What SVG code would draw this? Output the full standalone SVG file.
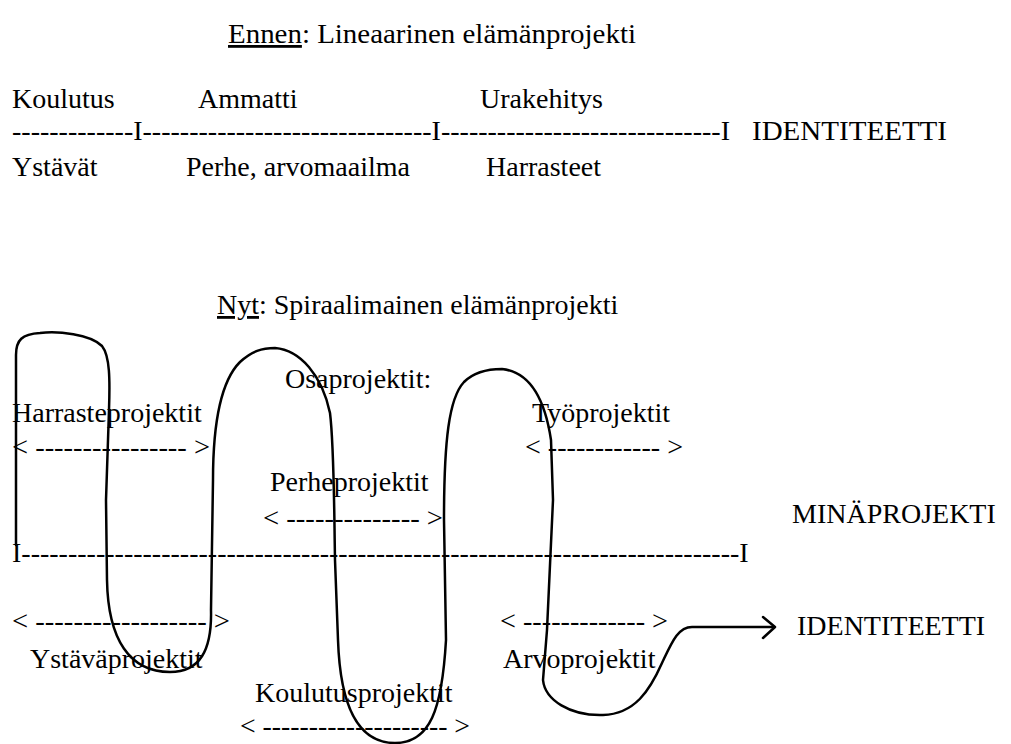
<svg xmlns="http://www.w3.org/2000/svg" width="1011" height="744" viewBox="0 0 1011 744">
<style>
text{font-family:"Liberation Serif","Times New Roman",serif;font-size:28px;fill:#000}
.u{text-decoration:underline}
.curve{fill:none;stroke:#000;stroke-width:2.5;stroke-linecap:round;stroke-linejoin:round}
</style>
<rect width="1011" height="744" fill="#fff"/>
<g id="linear">
<g id="title-ennen"><text x="228" y="43" textLength="408" lengthAdjust="spacingAndGlyphs"><tspan class="u">Ennen</tspan>: Lineaarinen elämänprojekti</text></g>
<g id="koulutus"><text x="12" y="108">Koulutus</text></g>
<g id="ammatti"><text x="198" y="108">Ammatti</text></g>
<g id="urakehitys"><text x="480" y="108">Urakehitys</text></g>
<g id="timeline1"><text x="12" y="140">-------------I-------------------------------I------------------------------I</text></g>
<g id="identiteetti1"><text x="752" y="140" textLength="195" lengthAdjust="spacingAndGlyphs">IDENTITEETTI</text></g>
<g id="ystavat"><text x="12" y="176">Ystävät</text></g>
<g id="perhe"><text x="186" y="176">Perhe, arvomaailma</text></g>
<g id="harrasteet"><text x="486" y="176">Harrasteet</text></g>
</g>
<g id="spiral">
<g id="title-nyt"><text x="217" y="314"><tspan class="u">Nyt</tspan>: Spiraalimainen elämänprojekti</text></g>
<g id="osaprojektit"><text x="285" y="388">Osaprojektit:</text></g>
<g id="harrasteprojektit"><text x="12" y="422">Harrasteprojektit</text><text x="12" y="456" textLength="198" lengthAdjust="spacingAndGlyphs">&lt; ---------------- &gt;</text></g>
<g id="tyoprojektit"><text x="532" y="422">Työprojektit</text><text x="525" y="456" textLength="158" lengthAdjust="spacingAndGlyphs">&lt; ------------ &gt;</text></g>
<g id="perheprojektit"><text x="270" y="491">Perheprojektit</text><text x="263" y="527" textLength="180" lengthAdjust="spacingAndGlyphs">&lt; -------------- &gt;</text></g>
<g id="minaprojekti"><text x="792" y="523">MINÄPROJEKTI</text></g>
<g id="timeline2"><text x="12" y="562">I-----------------------------------------------------------------------------I</text></g>
<g id="ystavaprojektit"><text x="12" y="630" textLength="218" lengthAdjust="spacingAndGlyphs">&lt; ------------------ &gt;</text><text x="30" y="668">Ystäväprojektit</text></g>
<g id="arvoprojektit"><text x="500" y="630" textLength="168" lengthAdjust="spacingAndGlyphs">&lt; ------------- &gt;</text><text x="503" y="668">Arvoprojektit</text></g>
<g id="identiteetti2"><text x="797" y="635">IDENTITEETTI</text></g>
<g id="koulutusprojektit"><text x="255" y="702">Koulutusprojektit</text><text x="240" y="735" textLength="230" lengthAdjust="spacingAndGlyphs">&lt; -------------------- &gt;</text></g>
</g>
<g id="connectors">
<path class="curve" d="M16 545 L16 355 C16 340 22 334 40 333 C58 331 90 334 102 346 C110 356 110 380 109 410 L106 500 L107 580 C108 640 130 672 170 672 C200 672 212 650 211 610 L213 480 C213 420 222 380 240 362 C252 351 262 348 275 348 C300 350 322 375 330 413 C334 445 334 500 335 560 L338 640 C340 700 355 743 395 743 C430 743 442 710 446 640 L444 520 C444 440 449 398 464 382 C475 371 490 369 502 369 C530 372 545 400 551 440 L553 500 L547 630 L543 680 C545 700 570 716 603 715 C635 714 650 690 662 663 C672 642 678 627 692 627 L773 627"/>
<polyline class="curve" points="763,617 775,627 763,638"/>
</g>
</svg>
